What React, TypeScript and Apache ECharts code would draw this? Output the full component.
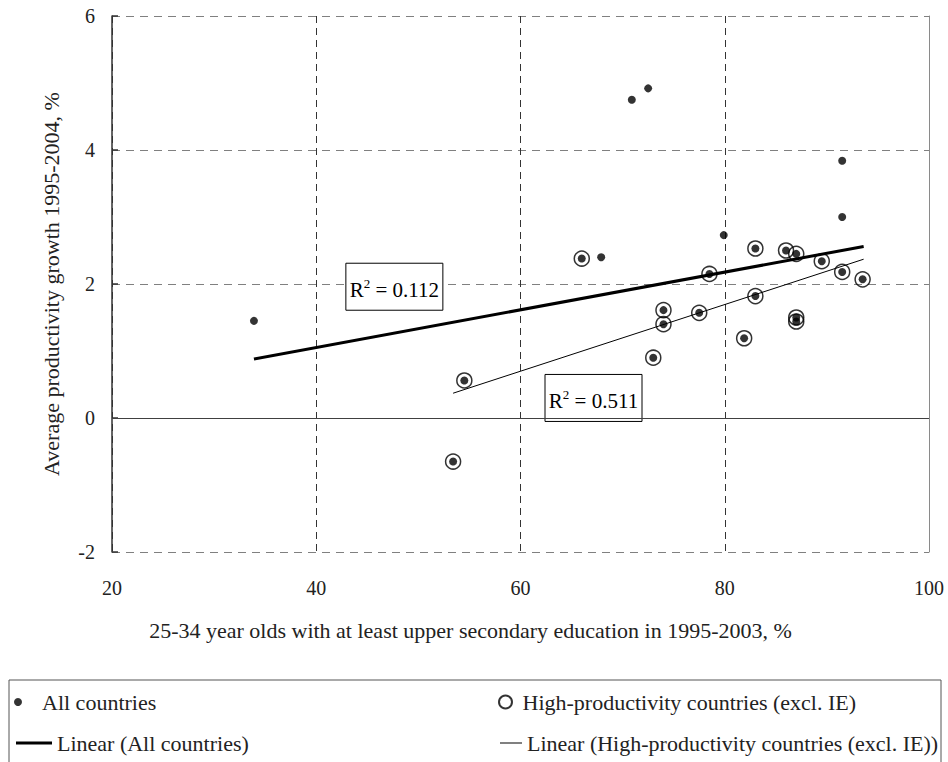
import React, { useEffect, useRef } from "react";
import * as echarts from "echarts";

const xTicks = [20, 40, 60, 80, 100];
const yTicks = [-2, 0, 2, 4, 6];

const allX = [33.9, 53.4, 54.5, 66.0, 67.9, 70.9, 72.5, 73.0, 74.0, 74.0, 77.5, 78.5, 79.9, 81.9, 83.0, 83.0, 86.0, 87.0, 87.0, 87.0, 89.5, 91.5, 91.5, 91.5, 93.5];
const allY = [1.45, -0.65, 0.56, 2.38, 2.40, 4.75, 4.92, 0.90, 1.61, 1.40, 1.57, 2.15, 2.73, 1.19, 2.53, 1.82, 2.50, 2.45, 1.50, 1.44, 2.34, 3.84, 3.00, 2.18, 2.07];

const hpX = [53.4, 54.5, 66.0, 73.0, 74.0, 74.0, 77.5, 78.5, 81.9, 83.0, 83.0, 86.0, 87.0, 87.0, 87.0, 89.5, 91.5, 93.5];
const hpY = [-0.65, 0.56, 2.38, 0.90, 1.61, 1.40, 1.57, 2.15, 1.19, 2.53, 1.82, 2.50, 2.45, 1.50, 1.44, 2.34, 2.18, 2.07];

const trendAllX = [33.9, 93.6];
const trendAllY = [0.88, 2.56];
const trendHpX = [53.4, 93.6];
const trendHpY = [0.37, 2.37];

const r2Labels = ["0.112", "0.511"];
const r2AnchorX = [42.9, 62.4];
const r2AnchorY = [2.31, 0.65];

const seriesNames = [
  "All countries",
  "High-productivity countries (excl. IE)",
  "Linear (All countries)",
  "Linear (High-productivity countries (excl. IE))",
];

const FONT = "'Liberation Serif', 'Times New Roman', serif";
const TXT = "#222";

const zip = (a: number[], b: number[]) => a.map((v, i) => [v, b[i]]);

export default function App() {
  const ref = useRef<HTMLDivElement>(null);

  useEffect(() => {
    if (!ref.current) return;
    const chart = echarts.init(ref.current, undefined, { renderer: "svg" });
    const legendText = { fontFamily: FONT, fontSize: 22, color: TXT };
    const option: any = {
      animation: false,
      backgroundColor: "#fff",
      textStyle: { fontFamily: FONT },
      grid: { left: 112, right: 19, top: 16, bottom: 210, containLabel: false },
      xAxis: {
        type: "value",
        min: xTicks[0],
        max: xTicks[xTicks.length - 1],
        interval: 20,
        position: "bottom",
        axisLine: { show: false, onZero: false },
        axisTick: { show: false },
        axisLabel: { fontFamily: FONT, fontSize: 20, color: TXT, margin: 26 },
        splitLine: { show: true, lineStyle: { type: [7, 5], color: "#333", width: 1 } },
        name: "25-34 year olds with at least upper secondary education in 1995-2003, %",
        nameLocation: "middle",
        nameGap: 67,
        nameTextStyle: { fontFamily: FONT, fontSize: 22, color: TXT, padding: [0, 100, 0, 0] },
      },
      yAxis: [
        {
          type: "value",
          min: yTicks[0],
          max: yTicks[yTicks.length - 1],
          interval: 2,
          position: "left",
          axisLine: { show: true, onZero: false, lineStyle: { color: "#333", width: 1.5 } },
          axisTick: { show: true, inside: true, length: 6, lineStyle: { color: "#333", width: 1.5 } },
          axisLabel: { fontFamily: FONT, fontSize: 20, color: TXT, margin: 17 },
          splitLine: { show: true, lineStyle: { type: [8, 6], color: "#808080", width: 1 } },
          name: "Average productivity growth 1995-2004, %",
          nameLocation: "middle",
          nameGap: 50,
          nameTextStyle: { fontFamily: FONT, fontSize: 22, color: TXT },
        },
        {
          type: "value",
          min: yTicks[0],
          max: yTicks[yTicks.length - 1],
          interval: 2,
          position: "right",
          axisLine: { show: true, onZero: false, lineStyle: { color: "#8a8a8a", width: 1 } },
          axisTick: { show: false },
          axisLabel: { show: false },
          splitLine: { show: false },
        },
      ],
      legend: [
        {
          data: [{ name: seriesNames[0], icon: "circle" }],
          left: 14, top: 691, padding: 0, itemWidth: 38, itemHeight: 8,
          textStyle: legendText, selectedMode: false,
        },
        {
          data: [{ name: seriesNames[1], icon: "circle" }],
          left: 498, top: 691, padding: 0, itemWidth: 24, itemHeight: 13,
          textStyle: legendText, selectedMode: false,
        },
        {
          data: [{ name: seriesNames[2], icon: "rect" }],
          left: 16, top: 732, padding: 0, itemWidth: 36, itemHeight: 3,
          textStyle: legendText, selectedMode: false,
        },
        {
          data: [{ name: seriesNames[3], icon: "rect" }],
          left: 500, top: 732, padding: 0, itemWidth: 22, itemHeight: 1,
          textStyle: legendText, selectedMode: false,
        },
      ],
      series: [
        {
          name: seriesNames[1],
          type: "scatter",
          data: zip(hpX, hpY),
          symbol: "circle",
          symbolSize: 15,
          itemStyle: { color: "rgba(0,0,0,0)", borderColor: "#000", borderWidth: 1.5 },
          z: 3,
        },
        {
          name: seriesNames[0],
          type: "scatter",
          data: zip(allX, allY),
          symbol: "circle",
          symbolSize: 8,
          itemStyle: { color: "#000" },
          z: 4,
          markLine: {
            silent: true,
            symbol: ["none", "none"],
            label: { show: false },
            lineStyle: { type: "solid", color: "#404040", width: 1.2 },
            data: [{ yAxis: 0 }],
          },
        },
        {
          name: seriesNames[2],
          type: "line",
          data: zip(trendAllX, trendAllY),
          symbol: "none",
          color: "#000",
          lineStyle: { color: "#000", width: 3 },
          z: 5,
        },
        {
          name: seriesNames[3],
          type: "line",
          data: zip(trendHpX, trendHpY),
          symbol: "none",
          color: "#000",
          lineStyle: { color: "#000", width: 1 },
          z: 5,
        },
      ],
    };
    chart.setOption(option);

    const boxW = 97;
    const boxH = 47;
    const elements: any[] = [
      {
        type: "rect",
        shape: { x: 9, y: 680, width: 932, height: 120 },
        style: { fill: "none", stroke: "#555", lineWidth: 1 },
        z: 1,
      },
    ];
    r2Labels.forEach((lab, i) => {
      const p = chart.convertToPixel({ gridIndex: 0 }, [r2AnchorX[i], r2AnchorY[i]]) as number[];
      elements.push({
        type: "group",
        x: p[0],
        y: p[1],
        z: 20,
        children: [
          {
            type: "rect",
            shape: { x: 0, y: 0, width: boxW, height: boxH },
            style: { fill: "#fff", stroke: "#000", lineWidth: 1 },
          },
          {
            type: "text",
            x: boxW / 2,
            y: boxH / 2 + 2,
            style: {
              text: `{r|R}{s|2}{r| = ${lab}}`,
              align: "center",
              verticalAlign: "middle",
              rich: {
                r: { fontFamily: FONT, fontSize: 21, color: TXT, lineHeight: 24, verticalAlign: "bottom" },
                s: { fontFamily: FONT, fontSize: 13, color: TXT, lineHeight: 12, verticalAlign: "top" },
              },
            },
          },
        ],
      });
    });
    chart.setOption({ graphic: { elements } });

    return () => chart.dispose();
  }, []);

  return (
    <div
      ref={ref}
      style={{ position: "fixed", left: 0, top: 0, width: 948, height: 762, background: "#fff" }}
    />
  );
}
